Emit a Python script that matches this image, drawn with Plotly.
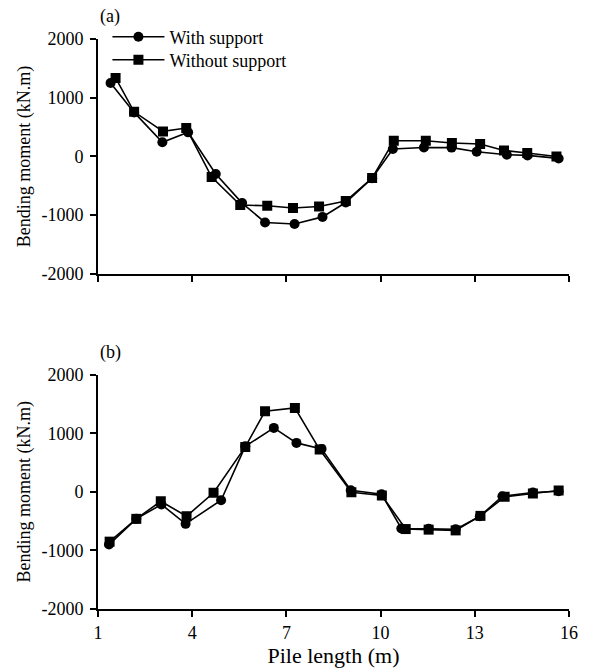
import plotly.graph_objects as go

# ---- data ----
top_x_with = [1.40, 2.15, 3.05, 3.87, 4.75, 5.59, 6.32, 7.26, 8.15, 8.89, 9.73, 10.39, 11.38, 12.26, 13.06, 14.02, 14.68, 15.67]
top_y_with = [1250, 750, 240, 410, -300, -795, -1125, -1150, -1030, -785, -370, 126, 153, 150, 80, 29, 17, -34]
top_x_without = [1.56, 2.15, 3.07, 3.81, 4.62, 5.53, 6.39, 7.21, 8.04, 8.89, 9.73, 10.42, 11.44, 12.27, 13.17, 13.93, 14.67, 15.60]
top_y_without = [1336, 760, 426, 483, -351, -828, -840, -879, -852, -760, -369, 267, 267, 228, 211, 102, 58, 0]

bot_x_with = [1.35, 2.22, 3.02, 3.79, 4.92, 5.69, 6.60, 7.32, 8.12, 9.05, 10.03, 10.66, 11.53, 12.39, 13.16, 13.88, 14.85, 15.67]
bot_y_with = [-900, -461, -215, -546, -143, 778, 1092, 836, 734, 27, -40, -625, -630, -640, -416, -75, -12, 10]
bot_x_without = [1.37, 2.22, 3.00, 3.82, 4.68, 5.69, 6.32, 7.27, 8.06, 9.07, 10.04, 10.80, 11.53, 12.39, 13.18, 13.95, 14.85, 15.67]
bot_y_without = [-850, -461, -160, -416, -15, 768, 1375, 1433, 722, -7, -63, -635, -645, -658, -410, -85, -29, 22]

series_names = ["With support", "Without support"]
x_ticks = [1, 4, 7, 10, 13, 16]
y_ticks = [-2000, -1000, 0, 1000, 2000]
y_ticktext = ["-2000", "-1000", "0", "1000", "2000"]
panel_labels = ["(a)", "(b)"]
x_title = "Pile length (m)"
y_title = "Bending moment (kN.m)"

FONT = "Liberation Serif"
FS = 18
line_style = dict(color="black", width=1.6)

fig = go.Figure()
fig.add_trace(go.Scatter(x=top_x_with, y=top_y_with, mode="lines+markers", name=series_names[0],
                         line=line_style, marker=dict(symbol="circle", size=10, color="black"),
                         xaxis="x", yaxis="y", legend="legend"))
fig.add_trace(go.Scatter(x=top_x_without, y=top_y_without, mode="lines+markers", name=series_names[1],
                         line=line_style, marker=dict(symbol="square", size=10, color="black"),
                         xaxis="x", yaxis="y", legend="legend2"))
fig.add_trace(go.Scatter(x=bot_x_with, y=bot_y_with, mode="lines+markers", name=series_names[0],
                         line=line_style, marker=dict(symbol="circle", size=10, color="black"),
                         xaxis="x2", yaxis="y2", showlegend=False))
fig.add_trace(go.Scatter(x=bot_x_without, y=bot_y_without, mode="lines+markers", name=series_names[1],
                         line=line_style, marker=dict(symbol="square", size=10, color="black"),
                         xaxis="x2", yaxis="y2", showlegend=False))

common_x = dict(range=[1, 16], tickvals=x_ticks, showgrid=False, zeroline=False,
                showline=True, linecolor="black", linewidth=2, ticks="outside",
                ticklen=6, tickwidth=2, tickcolor="black", automargin=False)
common_y = dict(range=[-2000, 2000], tickvals=y_ticks, ticktext=y_ticktext, showgrid=False,
                zeroline=False, showline=True, linecolor="black", linewidth=2,
                ticks="outside", ticklen=6, tickwidth=2, tickcolor="black",
                ticklabelstandoff=3, automargin=False,
                title=dict(text=y_title, standoff=6, font=dict(size=FS)))

legend_common = dict(xanchor="left", yanchor="middle", bgcolor="rgba(0,0,0,0)",
                     itemwidth=52, tracegroupgap=0, font=dict(size=FS))

fig.update_layout(
    width=591, height=669,
    margin=dict(l=98, r=22, t=39, b=60),
    paper_bgcolor="white", plot_bgcolor="white",
    font=dict(family=FONT, size=FS, color="black"),
    xaxis=dict(common_x, domain=[0, 1], anchor="y", showticklabels=False),
    yaxis=dict(common_y, domain=[0.588, 1.0], anchor="x"),
    xaxis2=dict(common_x, domain=[0, 1], anchor="y2", showticklabels=True,
                title=dict(text=x_title, standoff=4)),
    yaxis2=dict(common_y, domain=[0.0, 0.411], anchor="x2"),
    legend=dict(legend_common, x=0.02, y=1.0035),
    legend2=dict(legend_common, x=0.02, y=0.9632),
    annotations=[
        dict(text=panel_labels[0], xref="paper", yref="paper", x=0.0, y=1.0, xanchor="left",
             yanchor="bottom", yshift=10, showarrow=False, font=dict(size=FS)),
        dict(text=panel_labels[1], xref="paper", yref="paper", x=0.0, y=0.411, xanchor="left",
             yanchor="bottom", yshift=10, showarrow=False, font=dict(size=FS)),
    ],
)

fig.write_html("out.html", post_script="document.body.style.margin='0';",
               config={"displayModeBar": False})
